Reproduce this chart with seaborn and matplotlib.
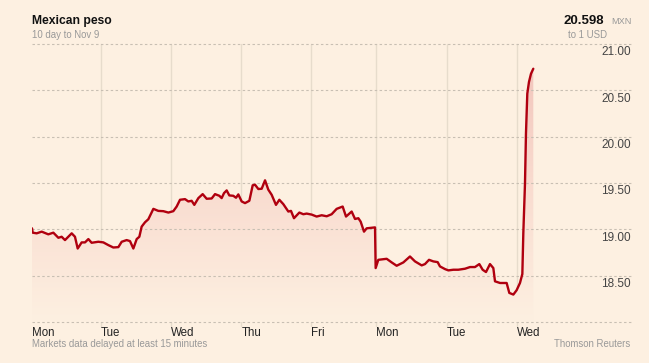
import numpy as np
import pandas as pd
import matplotlib
matplotlib.use("Agg")
import matplotlib.pyplot as plt
import seaborn as sns
from matplotlib import font_manager
from matplotlib.colors import LinearSegmentedColormap
import matplotlib.transforms as mtransforms

# ---------------- data ----------------
day_pos = [0.0, 0.01, 0.067, 0.139, 0.234, 0.306, 0.378, 0.425, 0.473, 0.521, 0.569, 0.616,
           0.655, 0.712, 0.760, 0.808, 0.855, 0.951, 1.023, 1.094, 1.166, 1.238, 1.286, 1.357,
           1.405, 1.453, 1.501, 1.539, 1.572, 1.620, 1.668, 1.740, 1.811, 1.883, 1.955, 2.026,
           2.074, 2.122, 2.194, 2.241, 2.289, 2.327, 2.385, 2.447, 2.504, 2.576, 2.624, 2.686,
           2.719, 2.753, 2.791, 2.829, 2.886, 2.925, 2.958, 3.006, 3.054, 3.116, 3.164, 3.197,
           3.245, 3.293, 3.341, 3.388, 3.436, 3.498, 3.546, 3.603, 3.675, 3.713, 3.756, 3.833,
           3.890, 3.938, 4.010, 4.081, 4.153, 4.225, 4.296, 4.368, 4.454, 4.502, 4.583, 4.631,
           4.679, 4.712, 4.760, 4.798, 4.918, 4.927, 4.965, 5.085, 5.157, 5.228, 5.324, 5.419,
           5.491, 5.587, 5.634, 5.692, 5.754, 5.816, 5.849, 5.921, 5.969, 6.041, 6.112, 6.208,
           6.280, 6.351, 6.413, 6.461, 6.509, 6.566, 6.614, 6.638, 6.710, 6.805, 6.843, 6.901,
           6.948, 6.996, 7.030, 7.044, 7.068, 7.082, 7.101, 7.125, 7.154, 7.187]
mxn_per_usd = [19.011, 18.964, 18.957, 18.975, 18.946, 18.964, 18.909, 18.920, 18.884, 18.920,
               18.957, 18.920, 18.793, 18.859, 18.859, 18.895, 18.855, 18.866, 18.859, 18.830,
               18.804, 18.808, 18.866, 18.884, 18.873, 18.793, 18.895, 18.920, 19.029, 19.076,
               19.109, 19.221, 19.199, 19.196, 19.181, 19.196, 19.246, 19.319, 19.326, 19.301,
               19.308, 19.264, 19.337, 19.380, 19.330, 19.333, 19.380, 19.362, 19.337, 19.391,
               19.420, 19.366, 19.362, 19.341, 19.377, 19.301, 19.283, 19.308, 19.475, 19.482,
               19.435, 19.438, 19.529, 19.428, 19.373, 19.264, 19.319, 19.272, 19.192, 19.199,
               19.120, 19.181, 19.163, 19.170, 19.159, 19.138, 19.152, 19.141, 19.163, 19.221,
               19.246, 19.138, 19.192, 19.112, 19.120, 19.083, 18.975, 19.011, 19.021, 18.582,
               18.671, 18.682, 18.643, 18.607, 18.643, 18.707, 18.654, 18.611, 18.625, 18.671,
               18.654, 18.646, 18.600, 18.571, 18.557, 18.564, 18.564, 18.575, 18.593, 18.593,
               18.625, 18.564, 18.539, 18.625, 18.582, 18.439, 18.421, 18.421, 18.314, 18.296,
               18.343, 18.421, 18.518, 18.959, 19.496, 20.034, 20.464, 20.590, 20.679, 20.733]
day_ticks = [0.0, 0.99, 1.99, 3.0, 4.0, 4.93, 5.95, 6.95]
day_labels = ["Mon", "Tue", "Wed", "Thu", "Fri", "Mon", "Tue", "Wed"]
y_grid = [18.0, 18.5, 19.0, 19.5, 20.0, 20.5, 21.0]
y_labels = ["", "18.50", "19.00", "19.50", "20.00", "20.50", "21.00"]

# ---------------- style ----------------
BG = "#fdf0e1"
LINE = "#b0000f"
sns.set_style("white")


def pick_font(cands):
    for c in cands:
        try:
            font_manager.findfont(c, fallback_to_default=False)
            return c
        except Exception:
            continue
    return "DejaVu Sans"


FONT = pick_font(["Liberation Sans Narrow", "Liberation Sans", "DejaVu Sans"])
plt.rcParams["font.family"] = [FONT, "DejaVu Sans"]

W, H = 649, 363
fig = plt.figure(figsize=(W / 100, H / 100), dpi=100, facecolor=BG)
L, R, T, B = 32, 631, 44, 322
ax = fig.add_axes([L / W, 1 - B / H, (R - L) / W, (B - T) / H])
ax.set_facecolor(BG)

df = pd.DataFrame({"day": day_pos, "rate": mxn_per_usd})

# gradient fill under the line
poly = ax.fill_between(df["day"], df["rate"], 18.0, color="none", lw=0)
grad = np.linspace(0, 1, 256).reshape(-1, 1)
cmap = LinearSegmentedColormap.from_list("g", [BG, "#f9dbcf", "#f1c2b9"])
im = ax.imshow(grad, extent=[0, max(day_pos), 18.0, 21.0], origin="lower",
               aspect="auto", cmap=cmap, zorder=1, interpolation="bilinear")
im.set_clip_path(poly.get_paths()[0], transform=ax.transData)

sns.lineplot(data=df, x="day", y="rate", ax=ax, color=LINE, lw=1.7, zorder=5)

xmax = (R - L) / 69.75
ax.set_xlim(0, xmax)
ax.set_ylim(18.0, 21.0)

for y in y_grid:
    ax.axhline(y, color="#c8bfb3", lw=0.8, ls=(0, (2.2, 2.2)), zorder=2, clip_on=False)
for xt in day_ticks[1:]:
    ax.axvline(xt, ymin=-0.015, ymax=1.0, color="#e7dccc", lw=1.0, zorder=0.5, clip_on=False)

trans_y = mtransforms.blended_transform_factory(ax.transAxes, ax.transData)
for y, lab in zip(y_grid, y_labels):
    if lab:
        ax.annotate(lab, xy=(1.0, y), xycoords=trans_y, xytext=(0, -5.9),
                    textcoords="offset points", ha="right", va="center",
                    fontsize=8.5, color="#444444")

trans_x = mtransforms.blended_transform_factory(ax.transData, ax.transAxes)
for xt, lab in zip(day_ticks, day_labels):
    ax.annotate(lab, xy=(xt, 0), xycoords=trans_x, xytext=(0, -8.0),
                textcoords="offset points", ha="left", va="center",
                fontsize=8.3, color="#222222", annotation_clip=False)

ax.set_xticks([])
ax.set_yticks([])
ax.set_xlabel("")
ax.set_ylabel("")
for s in ax.spines.values():
    s.set_visible(False)

fig.text(32 / W, 1 - 21 / H, "Mexican peso", fontsize=8.7, fontweight="bold",
         color="#111111", ha="left", va="center")
fig.text(32 / W, 1 - 34.5 / H, "10 day to Nov 9", fontsize=6.9, color="#999999",
         ha="left", va="center")
fig.text(604 / W, 1 - 21.5 / H, "20.598", fontsize=9.5, fontweight="bold",
         color="#111111", ha="right", va="center")
fig.text(611.5 / W, 1 - 22 / H, "MXN", fontsize=6.6, color="#999999", ha="left", va="center")
fig.text(568 / W, 1 - 34.5 / H, "to 1 USD", fontsize=6.9, color="#999999",
         ha="left", va="center")
fig.text(32 / W, 1 - 344 / H, "Markets data delayed at least 15 minutes", fontsize=6.9,
         color="#999999", ha="left", va="center")
fig.text(630 / W, 1 - 344 / H, "Thomson Reuters", fontsize=6.9, color="#999999",
         ha="right", va="center")

fig.savefig("out.png", dpi=100, facecolor=BG)
